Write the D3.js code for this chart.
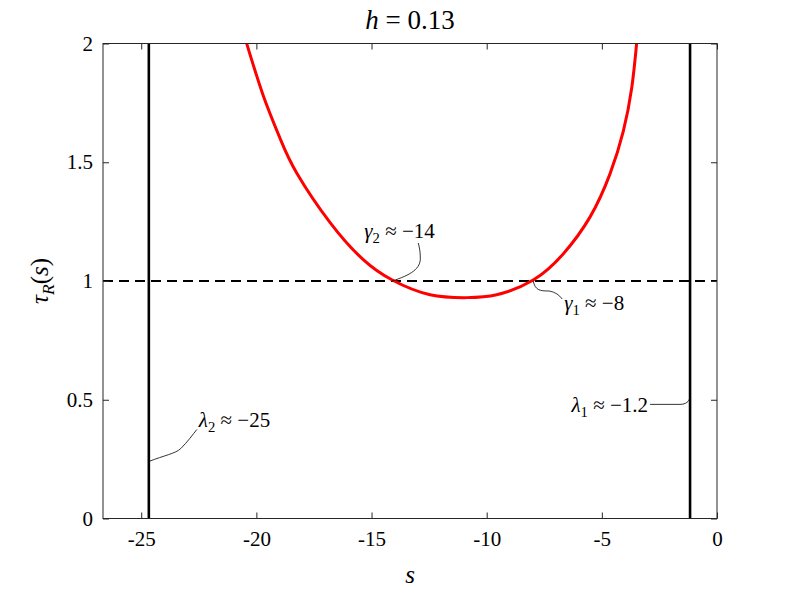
<!DOCTYPE html>
<html>
<head>
<meta charset="utf-8">
<script src="https://cdn.jsdelivr.net/npm/d3@7"></script>
<style>
	body { margin: 0; background: #fff; }
	svg { display: block; }
</style>
</head>
<body>
<svg id="chart"></svg>
<script>
const svgWidth = 793;
const svgHeight = 595;
const margin = {left: 103, right: 76, top: 43.5, bottom: 76.5};

// tau_R(s)
const sVals   = [-20.42, -19.70, -18.97, -18.25, -16.79, -15.36, -14.10, -12.46, -10.87, -9.57, -7.98, -6.67, -5.51, -4.65, -4.07, -3.70, -3.49];
const tauVals = [2.00, 1.78, 1.60, 1.455, 1.245, 1.09, 1.004, 0.942, 0.930, 0.942, 1.004, 1.115, 1.27, 1.45, 1.63, 1.815, 2.00];

const lambdas = [-24.67, -1.17];
const gammas = [-14.1, -7.98];
const xTicks = [-25, -20, -15, -10, -5, 0];
const yTicks = [0, 0.5, 1, 1.5, 2];
const xDomain = [-26.66, 0];
const yDomain = [0, 2];

const svg = d3.select("#chart")
				.attr("width", svgWidth)
				.attr("height", svgHeight);

const xScale = d3.scaleLinear()
				.domain(xDomain)
				.range([margin.left, svgWidth - margin.right]);
const yScale = d3.scaleLinear()
				.domain(yDomain)
				.range([svgHeight - margin.bottom, margin.top]);

const frameColor = "#262626";
const fontSize = 21;
const serif = "Tinos, 'Times New Roman', 'Liberation Serif', 'DejaVu Serif', 'Noto Serif', serif";

// clip for the data lines
svg.append("clipPath").attr("id", "plotClip")
	.append("rect")
	.attr("x", margin.left).attr("y", margin.top)
	.attr("width", xScale(0) - margin.left)
	.attr("height", yScale(0) - margin.top);

const plot = svg.append("g").attr("clip-path", "url(#plotClip)");

// dashed line tau = 1
plot.append("line")
	.attr("x1", xScale(xDomain[0])).attr("x2", xScale(xDomain[1]))
	.attr("y1", yScale(1)).attr("y2", yScale(1))
	.attr("stroke", "#000")
	.attr("stroke-width", 2)
	.attr("stroke-dasharray", "10,6");

// eigenvalue lines
plot.selectAll("line.lambda")
	.data(lambdas)
	.enter()
	.append("line")
	.attr("class", "lambda")
	.attr("x1", d => xScale(d)).attr("x2", d => xScale(d))
	.attr("y1", yScale(0)).attr("y2", yScale(2))
	.attr("stroke", "#000")
	.attr("stroke-width", 2.6);

// tau_R curve
const curveData = sVals.map((s, i) => ({s: s, tau: tauVals[i]}));
plot.append("path")
	.datum(curveData)
	.attr("fill", "none")
	.attr("stroke", "#ff0000")
	.attr("stroke-width", 3)
	.attr("d", d3.line()
		.x(d => xScale(d.s))
		.y(d => yScale(d.tau))
		.curve(d3.curveNatural));

// axes (ticks inside, box on)
const tickLen = 6;
let xAxis = d3.axisBottom(xScale)
				.tickValues(xTicks)
				.tickSize(-tickLen)
				.tickSizeOuter(0)
				.tickPadding(13)
				.tickFormat(d => d3.format("d")(d).replace("−", "-"));
let yAxis = d3.axisLeft(yScale)
				.tickValues(yTicks)
				.tickSize(-tickLen)
				.tickSizeOuter(0)
				.tickPadding(10)
				.tickFormat(d => d);

svg.append("g")
	.attr("transform", `translate(0, ${yScale(0)})`)
	.call(xAxis);
svg.append("g")
	.attr("transform", `translate(${margin.left}, 0)`)
	.call(yAxis);

// mirrored ticks on top and right
svg.append("g")
	.attr("transform", `translate(0, ${yScale(2)})`)
	.call(d3.axisTop(xScale).tickValues(xTicks).tickSize(-tickLen).tickSizeOuter(0).tickFormat(""));
svg.append("g")
	.attr("transform", `translate(${xScale(0)}, 0)`)
	.call(d3.axisRight(yScale).tickValues(yTicks).tickSize(-tickLen).tickSizeOuter(0).tickFormat(""));

svg.selectAll(".domain").remove();
svg.selectAll(".tick line").attr("stroke", frameColor).attr("stroke-width", 1);
svg.selectAll("g").attr("font-family", serif);
svg.selectAll(".tick text")
	.attr("font-family", serif)
	.attr("font-size", fontSize)
	.attr("fill", "#000");

// frame
svg.append("rect")
	.attr("x", margin.left).attr("y", margin.top)
	.attr("width", xScale(0) - margin.left)
	.attr("height", yScale(0) - margin.top)
	.attr("fill", "none")
	.attr("stroke", frameColor)
	.attr("stroke-width", 1);

// math-ish text helper
function mathText(g, x, y, parts, size, anchor) {
	let t = g.append("text")
		.attr("x", x).attr("y", y)
		.attr("font-family", serif)
		.attr("font-size", size)
		.attr("text-anchor", anchor || "start");
	parts.forEach(p => {
		let ts = t.append("tspan").text(p.t);
		if (p.i) ts.attr("font-style", "italic");
		if (p.sub) ts.attr("font-size", size * 0.7).attr("dy", size * 0.22);
		if (p.up) ts.attr("dy", -size * 0.22);
	});
	return t;
}

// title
mathText(svg, (margin.left + xScale(0)) / 2, 29,
	[{t: "h", i: true}, {t: " = 0.13"}], 27, "middle");

// axis labels
mathText(svg, (margin.left + xScale(0)) / 2, 583, [{t: "s", i: true}], 25, "middle");
mathText(svg.append("g").attr("transform", `translate(48, ${(yScale(0) + yScale(2)) / 2}) rotate(-90)`),
	0, 0,
	[{t: "τ", i: true}, {t: "R", i: true, sub: true}, {t: "(", up: true}, {t: "s", i: true}, {t: ")"}], 25, "middle");

// annotations with curved leaders
const leaders = [
	// lambda_2
	{ax: xScale(lambdas[0]), ay: yScale(0.24), d: (x, y) => `M${x},${y} C${x + 15},${y - 6} ${x + 27},${y - 8} ${x + 32},${y - 13} C${x + 39},${y - 20} ${x + 44},${y - 27} ${x + 48},${y - 32}`},
	// lambda_1
	{ax: xScale(lambdas[1]), ay: yScale(0.51), d: (x, y) => `M${x},${y} C${x - 1},${y + 4} ${x - 4},${y + 7} ${x - 10},${y + 7} L${x - 40},${y + 7}`},
	// gamma_2
	{ax: xScale(gammas[0]), ay: yScale(1), d: (x, y) => `M${x},${y} C${x + 18},${y - 6} ${x + 29},${y - 12} ${x + 28},${y - 24} C${x + 28},${y - 30} ${x + 27},${y - 34} ${x + 26},${y - 38}`},
	// gamma_1
	{ax: xScale(gammas[1]), ay: yScale(1), d: (x, y) => `M${x},${y} C${x + 2},${y + 9} ${x + 6},${y + 10} ${x + 16},${y + 10} C${x + 22},${y + 11} ${x + 26},${y + 14} ${x + 29},${y + 18}`}
];
svg.selectAll("path.leader")
	.data(leaders)
	.enter()
	.append("path")
	.attr("class", "leader")
	.attr("fill", "none")
	.attr("stroke", "#000")
	.attr("stroke-width", 0.8)
	.attr("d", d => d.d(d.ax, d.ay));

mathText(svg, xScale(lambdas[0]) + 50, 427, [{t: "λ", i: true}, {t: "2", sub: true}, {t: " ≈ −25", up: true}], fontSize);
mathText(svg, xScale(lambdas[1]) - 42, 412, [{t: "λ", i: true}, {t: "1", sub: true}, {t: " ≈ −1.2", up: true}], fontSize, "end");
mathText(svg, xScale(gammas[0]) - 28, 238, [{t: "γ", i: true}, {t: "2", sub: true}, {t: " ≈ −14", up: true}], fontSize);
mathText(svg, xScale(gammas[1]) + 31, 310, [{t: "γ", i: true}, {t: "1", sub: true}, {t: " ≈ −8", up: true}], fontSize);
</script>
</body>
</html>
